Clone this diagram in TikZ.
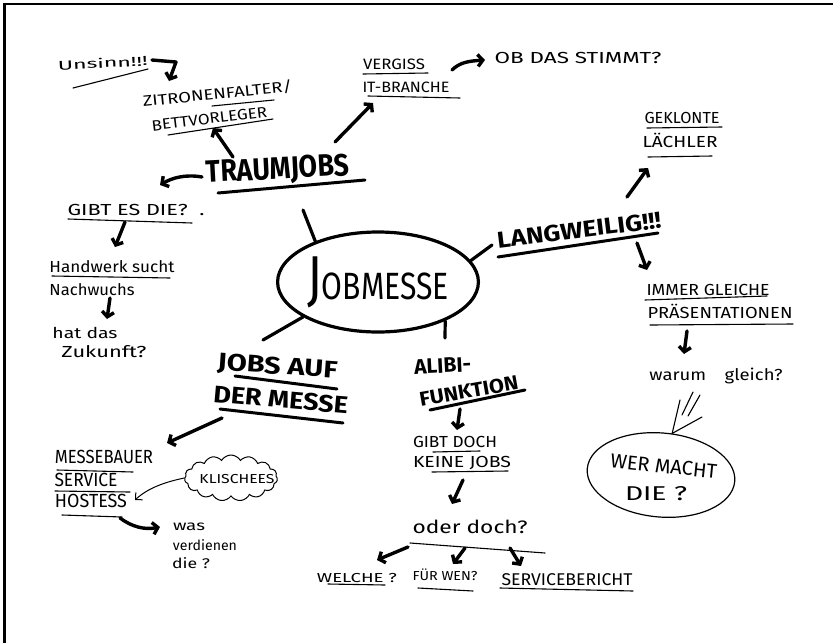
\documentclass[tikz,border=0pt]{standalone}
\usepackage{fontspec}
\setmainfont{Fira Sans}
\usepackage{graphicx}
\usetikzlibrary{arrows.meta,shapes.geometric,shapes.symbols}
\newcommand\fs[1]{\fontsize{#1}{#1}\selectfont}
\newcommand\hwt[3]{\resizebox{#1pt}{\height}{\fontsize{#2}{#2}\selectfont #3}}
\begin{document}
\begin{tikzpicture}[x=1pt,y=-1pt,
  tx/.style={inner sep=0pt, anchor=base},
  ul/.style={line width=1.1pt, line cap=round},
  ulb/.style={line width=3pt, line cap=round},
  br/.style={line width=3.2pt, line cap=round},
  thin/.style={line width=1.1pt, line cap=round},
  arr/.style={line width=3.4pt, line cap=round, line join=round, -{Straight Barb[length=5pt,width=12pt]}},
  tarr/.style={line width=1pt, line cap=round, -{Straight Barb[length=5pt,width=10pt]}}]
\useasboundingbox (0,0) rectangle (833,643);
% frame
\draw[line width=2.6pt] (4.7,643) -- (4.7,3.8) -- (833,3.8);

% texts
\node[tx,rotate=3] (uns) at (103,68) {\hwt{90}{13}{Unsinn!!!}};
\node[tx,rotate=6] (zit1) at (218,99) {\hwt{150}{15}{ZITRONENFALTER/}};
\node[tx,rotate=7] (zit2) at (210,124) {\hwt{116}{15}{BETTVORLEGER}};
\node[tx] (verg) at (394,69) {\hwt{62}{15}{VERGISS}};
\node[tx] (itb) at (406,92) {\hwt{87}{15}{IT-BRANCHE}};
\node[tx] (ob) at (578,63) {\hwt{167}{16}{OB DAS STIMMT?}};
\node[tx,rotate=3] (traum) at (278,179) {\hwt{143}{31}{\bfseries TRAUMJOBS}};
\node[tx] (gibt) at (136,215) {\hwt{137}{16}{GIBT ES DIE?\ \ .}};
\node[tx] (hw1) at (112,272) {\hwt{125}{16}{Handwerk sucht}};
\node[tx] (hw2) at (92,295) {\hwt{85}{16}{Nachwuchs}};
\node[tx] (hat1) at (85,338) {\hwt{65}{15}{hat das}};
\node[tx] (hat2) at (104,357) {\hwt{85}{16}{Zukunft?}};
\node[draw, ellipse, line width=3.2pt, minimum width=190pt, minimum height=100pt, inner sep=0pt] (jm) at (378,282)
  {\hwt{142}{38}{{\fs{62}J}OBMESSE}};
\node[tx,rotate=7] (lang) at (580,238) {\hwt{165}{23}{\bfseries LANGWEILIG!!!}};
\node[tx] (gek) at (682,123) {\hwt{75}{16}{GEKLONTE}};
\node[tx] (lach) at (680,147) {\hwt{75}{16}{LÄCHLER}};
\node[tx] (imm) at (708,295) {\hwt{123}{16}{IMMER GLEICHE}};
\node[tx] (pras) at (720,318) {\hwt{145}{16}{PRÄSENTATIONEN}};
\node[tx] (war) at (716,380) {\hwt{133}{16}{warum\quad gleich?}};
\node[draw, ellipse, line width=1.2pt, minimum width=148pt, minimum height=84pt, rotate=-5] (bub) at (661,475) {};
\node[tx,rotate=-6] (wer) at (663,473) {\hwt{107}{20}{WER MACHT}};
\node[tx] (die) at (656,500) {\hwt{62}{20}{DIE ?}};
\node[tx,rotate=-4] (jaf) at (277,374) {\hwt{120}{24}{\bfseries JOBS AUF}};
\node[tx,rotate=-5] (der) at (280,408) {\hwt{135}{24}{\bfseries DER MESSE}};
\node[tx,rotate=3] (alibi) at (443,373) {\hwt{57}{21}{\bfseries ALIBI-}};
\node[tx,rotate=10] (funk) at (470,398) {\hwt{100}{20}{\bfseries FUNKTION}};
\node[tx] (gd1) at (455,447) {\hwt{84}{16}{GIBT DOCH}};
\node[tx] (gd2) at (462,467) {\hwt{98}{16}{KEINE JOBS}};
\node[tx] (oder) at (470,533) {\hwt{115}{18}{oder doch?}};
\node[tx] (wel) at (357,582) {\hwt{80}{13}{WELCHE ?}};
\node[tx] (fur) at (445,580) {\hwt{65}{13}{FÜR WEN?}};
\node[tx] (serv) at (567,585) {\hwt{131}{17}{SERVICEBERICHT}};
\node[tx] (mb) at (104,463) {\hwt{98}{19}{MESSEBAUER}};
\node[tx] (srv2) at (86,486) {\hwt{63}{19}{SERVICE}};
\node[tx] (host) at (91,507) {\hwt{72}{19}{HOSTESS}};
\node[draw, cloud, cloud puffs=15, cloud puff arc=120, cloud ignores aspect, line width=1pt,
  minimum width=93pt, minimum height=46pt, inner sep=0pt] (cl) at (231,478) {};
\node[tx] (klis) at (237,483) {\hwt{75}{13}{KLISCHEES}};
\node[tx] (was1) at (189,530) {\hwt{32}{14}{was}};
\node[tx] (was2) at (205,550) {\hwt{64}{14}{verdienen}};
\node[tx] (was3) at (191,568) {\hwt{38}{14}{die ?}};

% underlines
\draw[ul] (73,88) -- (148,69);
\draw[ul] (212,106) -- (274,100);
\draw[ul] (168,135) -- (273,119);
\draw[ul] (363,74) -- (428,73);
\draw[ul] (368,96) -- (460,98);
\draw[ulb] (218,193) -- (365,180);
\draw[ul] (68,219) -- (192,223);
\draw[ul] (52,276) -- (170,278);
\draw[ulb] (498,257) -- (658,233);
\draw[ul] (647,128) -- (722,127);
\draw[ul] (648,157) -- (712,156);
\draw[ul] (645,300) -- (767,296);
\draw[ul] (650,325) -- (793,324);
\draw[ulb] (235,376) -- (337,389);
\draw[ulb] (220,409) -- (343,423);
\draw[ulb] (430,410) -- (525,390);
\draw[ul] (433,452) -- (480,451);
\draw[ul] (432,472) -- (508,471);
\draw[ul] (410,543) -- (545,553);
\draw[ul] (328,584) -- (385,585);
\draw[ul] (418,588) -- (473,591);
\draw[ul] (500,588) -- (633,591);
\draw[ul] (57,470) -- (133,472);
\draw[ul] (55,491) -- (130,492);
\draw[ul] (62,515) -- (122,517);

% branches of the centre
\draw[br] (jm.147) -- ([shift={(25,31)}]traum.base);
\draw[br] (jm.13) -- ([shift={(-88,7)}]lang.base);
\draw[br] (jm.205) -- ([shift={(-14,-34)}]jaf.base);
\draw[br] (jm.330) -- ([shift={(2,-35)}]alibi.base);

% arrows
\draw[arr] ([shift={(49,-8)}]uns.base) -- ([shift={(73,-6)}]uns.base) -- ([shift={(-49,-18)}]zit1.base);
\draw[arr] ([shift={(-45,-22)}]traum.base) -- ([shift={(3,4)}]zit2.base);
\draw[arr] ([shift={(57,-37)}]traum.base) -- ([shift={(-33,11)}]itb.base);
\draw[arr] ([shift={(46,-22)}]itb.base) .. controls (460,62) and (470,61) .. ([shift={(-93,-3)}]ob.base);
\draw[arr] ([shift={(-76,-2)}]traum.base) .. controls (185,174) and (172,178) .. ([shift={(24,-30)}]gibt.base);
\draw[arr] ([shift={(-11,7)}]gibt.base) -- ([shift={(3,-25)}]hw1.base);
\draw[arr] ([shift={(18,3)}]hw2.base) -- ([shift={(22,-19)}]hat1.base);
\draw[arr] ([shift={(47,-41)}]lang.base) -- ([shift={(-32,21)}]lach.base);
\draw[arr] ([shift={(57,5)}]lang.base) -- ([shift={(-61,-25)}]imm.base);
\draw[arr] ([shift={(-33,13)}]pras.base) -- ([shift={(-32,-26)}]war.base);
\draw[arr] ([shift={(-58,10)}]der.base) -- ([shift={(63,-20)}]mb.base);
\draw[arr] ([shift={(-10,11)}]funk.base) -- ([shift={(2,-17)}]gd1.base);
\draw[arr] ([shift={(1,13)}]gd2.base) -- ([shift={(-18,-29)}]oder.base);
\draw[arr] ([shift={(-62,14)}]oder.base) -- ([shift={(20,-22)}]wel.base);
\draw[arr] ([shift={(-5,15)}]oder.base) -- ([shift={(8,-16)}]fur.base);
\draw[arr] ([shift={(40,15)}]oder.base) -- ([shift={(-46,-19)}]serv.base);
\draw[arr] ([shift={(29,11)}]host.base) .. controls (132,527) and (145,530) .. ([shift={(-29,-3)}]was1.base);
\draw[tarr] (cl.west) .. controls (165,482) and (148,488) .. ([shift={(44,-7)}]host.base);

% speech bubble pointer and strokes
\draw[thin] (bub.80) -- ([shift={(19,-75)}]bub.center);
\draw[thin] (bub.80) -- ([shift={(41,-58)}]bub.center);
\draw[thin] ([shift={(21,-60)}]bub.center) -- ([shift={(32,-83)}]bub.center);
\draw[thin] ([shift={(27,-59)}]bub.center) -- ([shift={(39,-80)}]bub.center);
\end{tikzpicture}
\end{document}
